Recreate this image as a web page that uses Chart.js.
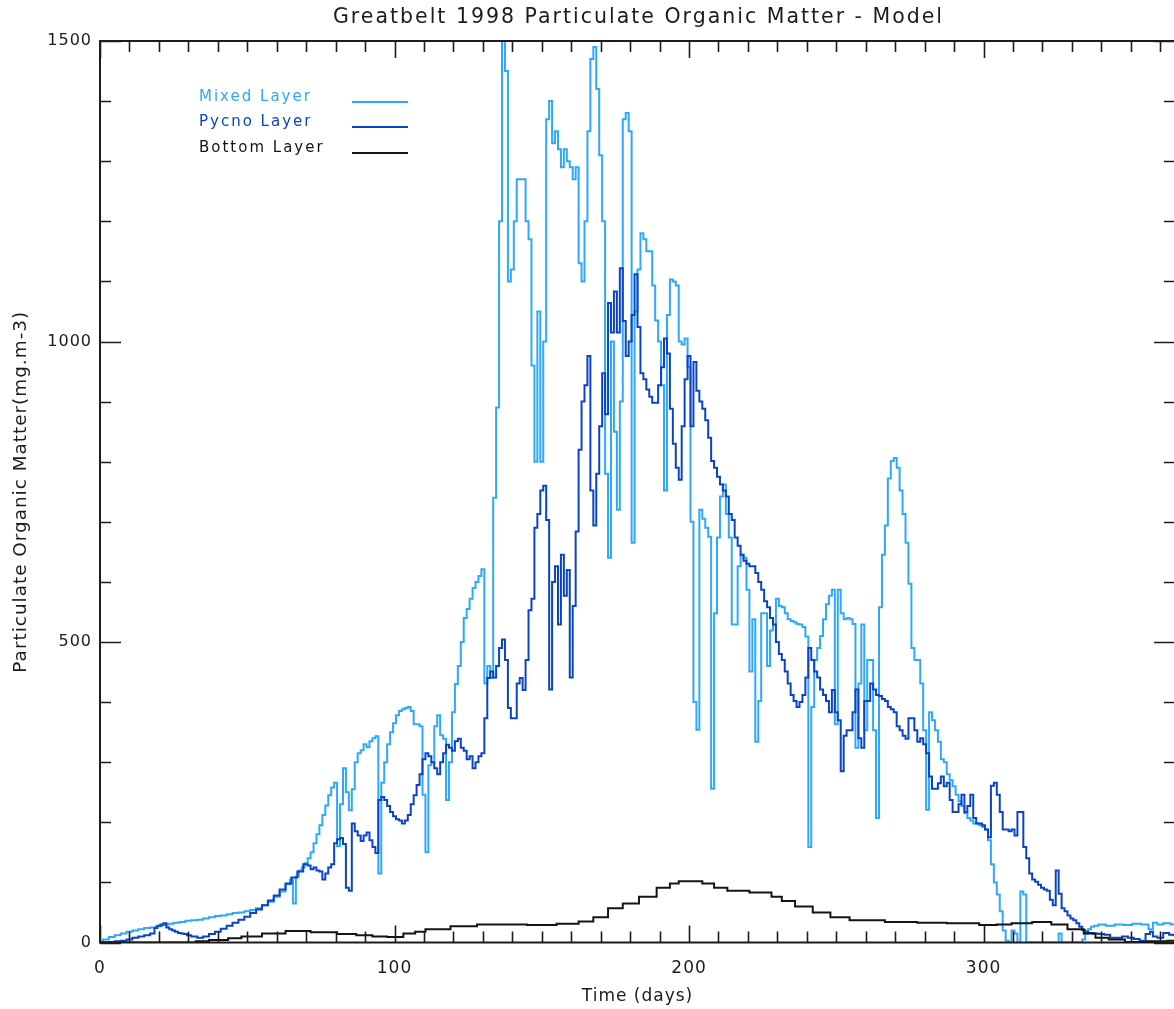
<!DOCTYPE html>
<html>
<head>
<meta charset="utf-8">
<script src="https://cdn.jsdelivr.net/npm/chart.js@4.4.1/dist/chart.umd.min.js"></script>
<style>
  html, body { margin: 0; padding: 0; background: #fff; overflow: hidden; }
  #wrap { width: 1200px; height: 1009px; position: relative; }
</style>
</head>
<body>
<div id="wrap"><canvas id="c"></canvas></div>
<script>
// ---------- DATA (day, value) ----------
const mixedLayer = [
 [0,0],[2,5],[4,9],[6,12],[8,15],[10,18],[12,20],[14,22],[16,24],[18,25],[20,27],[22,29],[24,31],[26,33],[28,34],
 [30,36],[32,37],[34,38],[36,40],[38,42],[40,44],[42,45],[44,47],[46,49],[48,50],[50,52],[52,54],[54,57],[56,62],
 [58,68],[60,76],[62,85],[64,97],[65,105],[66,65],[67,110],[68,120],[69,125],[70,132],[71,140],[72,150],[73,165],
 [74,180],[75,195],[76,212],[77,228],[78,245],[79,258],[80,266],[81,160],[82,230],[83,290],[84,250],[85,220],
 [86,255],[87,300],[88,315],[89,320],[90,330],[91,325],[92,335],[93,340],[94,343],[95,115],[96,266],[97,300],
 [98,330],[99,350],[100,365],[101,378],[102,385],[103,388],[104,390],[105,392],[106,385],[107,363],[108,363],
 [109,360],[110,246],[111,150],[112,295],[113,300],[114,360],[115,378],[116,345],[117,339],[118,237],[119,300],
 [120,383],[121,430],[122,460],[123,500],[124,540],[125,555],[126,572],[127,590],[128,600],[129,610],[130,621],
 [131,431],[132,460],[133,440],[134,740],[135,890],[136,1200],[137,1500],[138,1450],[139,1100],[140,1120],
 [141,1200],[142,1270],[143,1270],[144,1270],[145,1200],[146,1170],[147,960],[148,800],[149,1050],[150,800],
 [151,1000],[152,1370],[153,1400],[154,1330],[155,1350],[156,1320],[157,1290],[158,1320],[159,1300],[160,1290],
 [161,1270],[162,1290],[163,1130],[164,1100],[165,1200],[166,1350],[167,1470],[168,1490],[169,1420],[170,1310],
 [171,1200],[172,780],[173,640],[174,1000],[175,850],[176,720],[177,900],[178,1370],[179,1380],[180,1350],
 [181,665],[182,1050],[183,1120],[184,1180],[185,1170],[186,1150],[187,1150],[188,1093],[189,1035],[190,1000],
 [191,927],[192,752],[193,1044],[194,1103],[195,1100],[196,1093],[197,1000],[198,995],[199,1005],[200,957],
 [201,700],[202,400],[203,354],[204,720],[205,705],[206,690],[207,675],[208,256],[209,548],[210,674],[211,742],
 [212,762],[213,713],[214,674],[215,529],[216,529],[217,626],[218,645],[219,640],[220,587],[221,451],[222,538],
 [223,334],[224,402],[225,548],[226,548],[227,460],[228,519],[229,529],[230,572],[231,560],[232,558],[233,548],
 [234,538],[235,535],[236,533],[237,530],[238,529],[239,525],[240,509],[241,159],[242,392],[243,470],[244,490],
 [245,510],[246,538],[247,563],[248,577],[249,587],[250,363],[251,587],[252,548],[253,538],[254,540],[255,538],
 [256,530],[257,324],[258,431],[259,529],[260,353],[261,470],[262,470],[263,353],[264,207],[265,558],[266,645],
 [267,694],[268,772],[269,801],[270,806],[271,790],[272,752],[273,713],[274,665],[275,597],[276,490],[277,470],
 [278,470],[279,431],[280,353],[281,221],[282,383],[283,370],[284,353],[285,334],[286,305],[287,300],[288,280],
 [289,270],[290,260],[291,246],[292,235],[293,227],[294,215],[295,207],[296,203],[297,198],[298,198],[299,195],
 [300,192],[301,188],[302,170],[303,130],[304,100],[305,80],[306,52],[307,20],[308,3],[309,0],[310,20],[311,15],
 [312,0],[313,85],[314,80],[315,0],[325,0],[326,15],[327,0],[333,0],[334,5],[335,15],[336,22],[337,26],[338,28],
 [340,30],[343,28],[346,30],[349,29],[352,31],[355,30],[357,22],[358,33],[360,30],[362,32],[365,30]
];
const pycnoLayer = [
 [0,0],[2,0],[4,1],[6,2],[8,3],[10,5],[12,8],[14,10],[16,12],[18,15],[19,24],[20,28],[21,30],[22,32],[23,25],
 [24,22],[25,20],[26,18],[27,16],[28,15],[29,14],[30,12],[32,10],[34,8],[36,10],[38,14],[40,18],[42,23],[44,28],
 [46,33],[48,38],[50,43],[52,49],[54,55],[56,62],[58,70],[60,78],[62,88],[64,98],[66,108],[68,118],[70,130],
 [71,128],[72,122],[73,125],[74,120],[75,118],[76,105],[77,115],[78,125],[79,130],[80,165],[81,172],[82,174],
 [83,164],[84,91],[85,86],[86,198],[87,185],[88,178],[89,169],[90,178],[91,183],[92,170],[93,159],[94,149],
 [95,237],[96,242],[97,237],[98,227],[99,217],[100,210],[101,205],[102,203],[103,198],[104,203],[105,212],
 [106,230],[107,245],[108,262],[109,280],[110,305],[111,315],[112,310],[113,300],[114,290],[115,280],[116,300],
 [117,315],[118,329],[119,324],[120,319],[121,335],[122,339],[123,324],[124,319],[125,305],[126,310],[127,290],
 [128,300],[129,310],[130,315],[131,373],[132,440],[133,451],[134,441],[135,460],[136,490],[137,504],[138,470],
 [139,390],[140,373],[141,373],[142,431],[143,440],[144,420],[145,470],[146,553],[147,572],[148,690],[149,713],
 [150,752],[151,760],[152,703],[153,421],[154,600],[155,626],[156,529],[157,645],[158,577],[159,620],[160,441],
 [161,560],[162,684],[163,820],[164,900],[165,927],[166,976],[167,752],[168,694],[169,780],[170,859],[171,947],
 [172,879],[173,1064],[174,1015],[175,1083],[176,1015],[177,1122],[178,1034],[179,976],[180,1000],[181,1044],
 [182,1112],[183,1024],[184,947],[185,937],[186,920],[187,908],[188,898],[189,898],[190,927],[191,957],[192,1005],
 [193,980],[194,888],[195,830],[196,790],[197,770],[198,859],[199,937],[200,976],[201,859],[202,966],[203,918],
 [204,900],[205,888],[206,869],[207,840],[208,801],[209,790],[210,775],[211,762],[212,752],[213,742],[214,713],
 [215,703],[216,674],[217,660],[218,645],[219,635],[220,630],[221,626],[222,626],[223,615],[224,600],[225,587],
 [226,568],[227,558],[228,540],[229,529],[230,500],[231,480],[232,470],[233,451],[234,431],[235,412],[236,402],
 [237,392],[238,400],[239,412],[240,441],[241,490],[242,470],[243,451],[244,441],[245,421],[246,412],[247,402],
 [248,383],[249,420],[250,383],[251,370],[252,285],[253,344],[254,353],[255,353],[256,383],[257,421],[258,340],
 [259,324],[260,402],[261,402],[262,431],[263,421],[264,412],[265,410],[266,405],[267,402],[268,392],[269,388],
 [270,383],[271,360],[272,353],[273,344],[274,339],[275,373],[276,373],[277,353],[278,334],[279,340],[280,330],
 [281,315],[282,276],[283,256],[284,256],[285,265],[286,276],[287,260],[288,266],[289,237],[290,217],[291,217],
 [292,230],[293,246],[294,217],[295,227],[296,246],[297,207],[298,198],[299,198],[300,195],[301,188],[302,175],
 [303,261],[304,266],[305,246],[306,217],[307,188],[308,188],[309,185],[310,188],[311,178],[312,217],[313,217],
 [314,159],[315,140],[316,115],[317,105],[318,101],[319,96],[320,91],[321,88],[322,86],[323,71],[324,62],[325,120],
 [326,81],[327,57],[328,52],[329,45],[330,40],[331,37],[332,32],[333,26],[334,21],[335,18],[336,16],[338,15],
 [340,14],[342,13],[344,8],[346,8],[348,10],[350,8],[352,6],[354,3],[356,14],[357,18],[358,10],[360,8],[362,16],
 [364,13],[365,12]
];
const bottomLayer = [
 [0,0],[32,0],[33,2],[41,4],[46,7],[50,10],[60,15],[66,19],[77,17],[84,14],[90,12],[95,10],[100,9],[106,15],
 [108,18],[113,22],[125,27],[131,30],[140,30],[150,29],[160,31],[165,35],[170,42],[175,57],[180,65],[186,76],
 [192,91],[195,98],[198,102],[203,102],[206,98],[211,91],[215,86],[226,83],[230,76],[233,69],[239,60],[245,50],
 [251,42],[258,37],[275,34],[280,33],[295,32],[302,29],[307,30],[312,32],[321,34],[325,30],[332,22],[336,15],
 [340,8],[345,5],[351,1],[360,2],[365,3]
];
const seriesNames = ['Mixed Layer', 'Pycno Layer', 'Bottom Layer'];
const xMajorTicks = [0, 100, 200, 300];
const yMajorTicks = [0, 500, 1000, 1500];
const xMinorStep = 10, yMinorStep = 100;
const titleText = 'Greatbelt 1998 Particulate Organic Matter - Model';
const xTitle = 'Time (days)';
const yTitle = 'Particulate Organic Matter(mg.m-3)';

// ---------- STYLE ----------
const colors = ['#2ea8fb', '#0a44c4', '#141414'];
const FONT = 'DejaVu Sans';
const AXIS_COLOR = '#1c1c1c';

const toPts = arr => arr.map(([x, y]) => ({x, y}));

const spacing = {
  id: 'spacing',
  beforeDraw(chart) { chart.ctx.letterSpacing = '1px'; },
  afterDraw(chart) { chart.ctx.letterSpacing = '0px'; }
};

const frameTicks = {
  id: 'frameTicks',
  afterDatasetsDraw(chart) {
    const {ctx, chartArea: a, scales: {x, y}} = chart;
    ctx.save();
    ctx.strokeStyle = AXIS_COLOR;
    ctx.lineWidth = 1.6;
    ctx.beginPath();
    for (let d = x.min; d <= x.max; d += xMinorStep) {
      const px = Math.round(x.getPixelForValue(d)) + 0.5;
      const len = xMajorTicks.includes(d) ? 17 : 11;
      ctx.moveTo(px, a.bottom); ctx.lineTo(px, a.bottom - len);
      ctx.moveTo(px, a.top); ctx.lineTo(px, a.top + len);
    }
    for (let v = y.min; v <= y.max; v += yMinorStep) {
      const py = Math.round(y.getPixelForValue(v)) + 0.5;
      const len = yMajorTicks.includes(v) ? 21 : 11;
      ctx.moveTo(a.left, py); ctx.lineTo(a.left + len, py);
      ctx.moveTo(a.right, py); ctx.lineTo(a.right - len, py);
    }
    ctx.stroke();
    ctx.lineWidth = 2;
    ctx.strokeRect(a.left, a.top, a.right - a.left, a.bottom - a.top);
    // title
    ctx.letterSpacing = '2px';
    ctx.fillStyle = AXIS_COLOR;
    ctx.font = '20.5px "' + FONT + '"';
    ctx.textBaseline = 'middle';
    ctx.textAlign = 'center';
    ctx.fillText(titleText, (a.left + a.right) / 2 + 1, 18);
    // legend
    ctx.font = '15px "' + FONT + '"';
    ctx.textAlign = 'left';
    const rows = [97, 122, 148];
    seriesNames.forEach((name, i) => {
      ctx.fillStyle = colors[i];
      ctx.fillText(name, 199, rows[i]);
      ctx.strokeStyle = colors[i];
      ctx.lineWidth = 2;
      ctx.beginPath();
      ctx.moveTo(352, rows[i] + 5); ctx.lineTo(408, rows[i] + 5);
      ctx.stroke();
    });
    ctx.restore();
  }
};

const ds = (label, data, color, order) => ({
  label, data: toPts(data), borderColor: color, backgroundColor: color,
  borderWidth: 2, pointRadius: 0, tension: 0, stepped: 'middle', order, fill: false
});

new Chart(document.getElementById('c'), {
  type: 'line',
  data: {
    datasets: [
      ds(seriesNames[0], mixedLayer, colors[0], 3),
      ds(seriesNames[1], pycnoLayer, colors[1], 2),
      ds(seriesNames[2], bottomLayer, colors[2], 1)
    ]
  },
  options: {
    responsive: true,
    maintainAspectRatio: false,
    animation: false,
    devicePixelRatio: 1,
    layout: { padding: { left: 0, right: 25, top: 41, bottom: 0 } },
    plugins: {
      legend: { display: false },
      tooltip: { enabled: false },
      title: { display: false }
    },
    scales: {
      x: {
        type: 'linear', position: 'bottom', min: 0, max: 365,
        afterFit: s => { s.height = 66.5; },
        afterBuildTicks: s => { s.ticks = xMajorTicks.map(v => ({value: v})); },
        grid: { display: false, drawTicks: false },
        border: { display: false },
        ticks: { color: '#1c1c1c', padding: 16, maxRotation: 0, font: { family: FONT, size: 17 },
                 callback: v => String(v) },
        title: { display: true, text: xTitle, color: '#1c1c1c', font: { family: FONT, size: 17 }, padding: { top: 0, bottom: 2 } }
      },
      y: {
        type: 'linear', position: 'left', min: 0, max: 1500,
        afterFit: s => { s.width = 100; },
        afterBuildTicks: s => { s.ticks = yMajorTicks.map(v => ({value: v})); },
        grid: { display: false, drawTicks: false },
        border: { display: false },
        ticks: { color: '#1c1c1c', padding: 8, font: { family: FONT, size: 16 },
                 callback: v => String(v) },
        title: { display: true, text: yTitle, color: '#1c1c1c', font: { family: FONT, size: 18.4 }, padding: { top: 10, bottom: 0 } }
      }
    }
  },
  plugins: [spacing, frameTicks]
});
</script>
</body>
</html>
